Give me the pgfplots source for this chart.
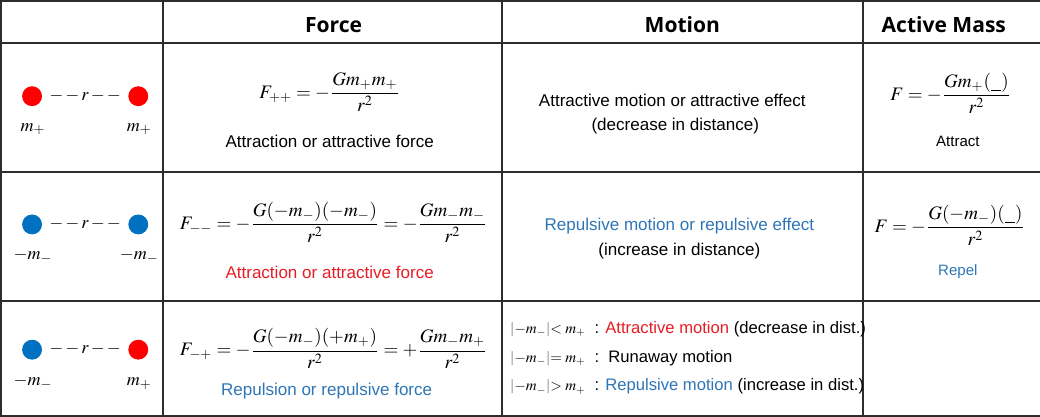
\documentclass[border=0pt]{standalone}
\usepackage{mathptmx}
\usepackage[no-math]{fontspec}
\setmainfont{Liberation Sans}
\newfontfamily\headfont{Open Sans}
\usepackage{pgfplots}
\pgfplotsset{compat=1.18}

\definecolor{dotred}{RGB}{255,0,0}
\definecolor{dotblue}{RGB}{0,112,192}
\definecolor{txtred}{RGB}{232,28,36}
\definecolor{txtblue}{RGB}{46,117,182}
\definecolor{rulegray}{RGB}{45,45,45}
\definecolor{bargray}{RGB}{170,170,170}

% 1 px of the reference = 0.5pt
\newcommand\body{\fontsize{8.5pt}{10pt}\selectfont}
\newcommand\cond{\fontsize{8.3pt}{10pt}\selectfont}
\newcommand\frm{\fontsize{9.5pt}{11pt}\selectfont}
\newcommand\lab{\fontsize{9pt}{10pt}\selectfont}
\newcommand\sml{\fontsize{7.5pt}{9pt}\selectfont}
\newcommand\blank{(\underline{\hspace{0.55em}})}
\newcommand\gb{\textcolor{bargray}{|}}

\begin{document}
\begin{tikzpicture}
\begin{axis}[
    width=520pt, height=209.5pt, scale only axis,
    xmin=0, xmax=1040, ymin=0, ymax=419, y dir=reverse,
    hide axis, clip=false,
    every axis plot/.append style={line cap=rect},
]
% table rules
\addplot[rulegray, line width=1pt] coordinates {(4,1) (1040,1)};
\addplot[rulegray, line width=1pt] coordinates {(4,43) (1040,43)};
\addplot[rulegray, line width=1pt] coordinates {(4,172) (1040,172)};
\addplot[rulegray, line width=1pt] coordinates {(4,300) (1040,300)};
\addplot[rulegray, line width=1pt] coordinates {(4,415) (1040,415)};
\addplot[rulegray, line width=1pt] coordinates {(4,1) (4,415)};
\addplot[rulegray, line width=1pt] coordinates {(166,1) (166,415)};
\addplot[rulegray, line width=1pt] coordinates {(504,1) (504,415)};
\addplot[rulegray, line width=1pt] coordinates {(864,1) (864,415)};

% masses
\addplot[only marks, mark=*, mark size=4.75pt, color=dotred, mark options={draw=none}]
    coordinates {(35,96) (141,96) (141,349)};
\addplot[only marks, mark=*, mark size=4.75pt, color=dotblue, mark options={draw=none}]
    coordinates {(35,224) (141,224) (35,349)};

% header
\node[anchor=base, font=\headfont\bfseries\fontsize{10.5pt}{12pt}\selectfont] at (axis cs:336,32) {Force};
\node[anchor=base, font=\headfont\bfseries\fontsize{10.5pt}{12pt}\selectfont] at (axis cs:684,32) {Motion};
\node[anchor=base, font=\headfont\bfseries\fontsize{10.5pt}{12pt}\selectfont] at (axis cs:945,32) {Active Mass};

% row 1
\node[anchor=base, font=\lab] at (axis cs:88,100) {${-}\,{-}\,r\,{-}\,{-}$};
\node[anchor=base, font=\lab] at (axis cs:36,131) {$m_+$};
\node[anchor=base, font=\lab] at (axis cs:142,131) {$m_+$};
\node[anchor=base, font=\frm] at (axis cs:332,98) {$F_{++}=-\displaystyle\frac{Gm_+m_+}{r^2}$};
\node[anchor=base, font=\body] at (axis cs:332,147) {Attraction or attractive force};
\node[anchor=base, font=\body] at (axis cs:674,106) {Attractive motion or attractive effect};
\node[anchor=base, font=\body] at (axis cs:677,130) {(decrease in distance)};
\node[anchor=base, font=\frm] at (axis cs:952,100) {$F=-\displaystyle\frac{Gm_+\blank}{r^2}$};
\node[anchor=base, font=\sml] at (axis cs:959,146) {Attract};

% row 2
\node[anchor=base, font=\lab] at (axis cs:88,228) {${-}\,{-}\,r\,{-}\,{-}$};
\node[anchor=base, font=\lab] at (axis cs:36,259) {$-m_-$};
\node[anchor=base, font=\lab] at (axis cs:142,259) {$-m_-$};
\node[anchor=base, font=\frm] at (axis cs:336,229) {$F_{--}=-\displaystyle\frac{G(-m_-)(-m_-)}{r^2}=-\frac{Gm_-m_-}{r^2}$};
\node[anchor=base, font=\body, text=txtred] at (axis cs:332,278) {Attraction or attractive force};
\node[anchor=base, font=\body, text=txtblue] at (axis cs:681,230) {Repulsive motion or repulsive effect};
\node[anchor=base, font=\body] at (axis cs:681,255) {(increase in distance)};
\node[anchor=base, font=\frm] at (axis cs:951,232) {$F=-\displaystyle\frac{G(-m_-)\blank}{r^2}$};
\node[anchor=base, font=\sml, text=txtblue] at (axis cs:959,275) {Repel};

% row 3
\node[anchor=base, font=\lab] at (axis cs:88,353) {${-}\,{-}\,r\,{-}\,{-}$};
\node[anchor=base, font=\lab] at (axis cs:36,385) {$-m_-$};
\node[anchor=base, font=\lab] at (axis cs:142,385) {$m_+$};
\node[anchor=base, font=\frm] at (axis cs:336,355) {$F_{-+}=-\displaystyle\frac{G(-m_-)(+m_+)}{r^2}=+\frac{Gm_-m_+}{r^2}$};
\node[anchor=base, font=\body, text=txtblue] at (axis cs:329,395) {Repulsion or repulsive force};
\node[anchor=base west, font=\cond, inner sep=0pt] at (axis cs:512,333)
    {\makebox[42pt][l]{\sml\gb$-m_-$\gb$<m_+$}: \textcolor{txtred}{Attractive motion} (decrease in dist.)};
\node[anchor=base west, font=\cond, inner sep=0pt] at (axis cs:512,362)
    {\makebox[42pt][l]{\sml\gb$-m_-$\gb$=m_+$}:\ \ Runaway motion};
\node[anchor=base west, font=\cond, inner sep=0pt] at (axis cs:512,390)
    {\makebox[42pt][l]{\sml\gb$-m_-$\gb$>m_+$}: \textcolor{txtblue}{Repulsive motion} (increase in dist.)};
\end{axis}
\end{tikzpicture}
\end{document}
